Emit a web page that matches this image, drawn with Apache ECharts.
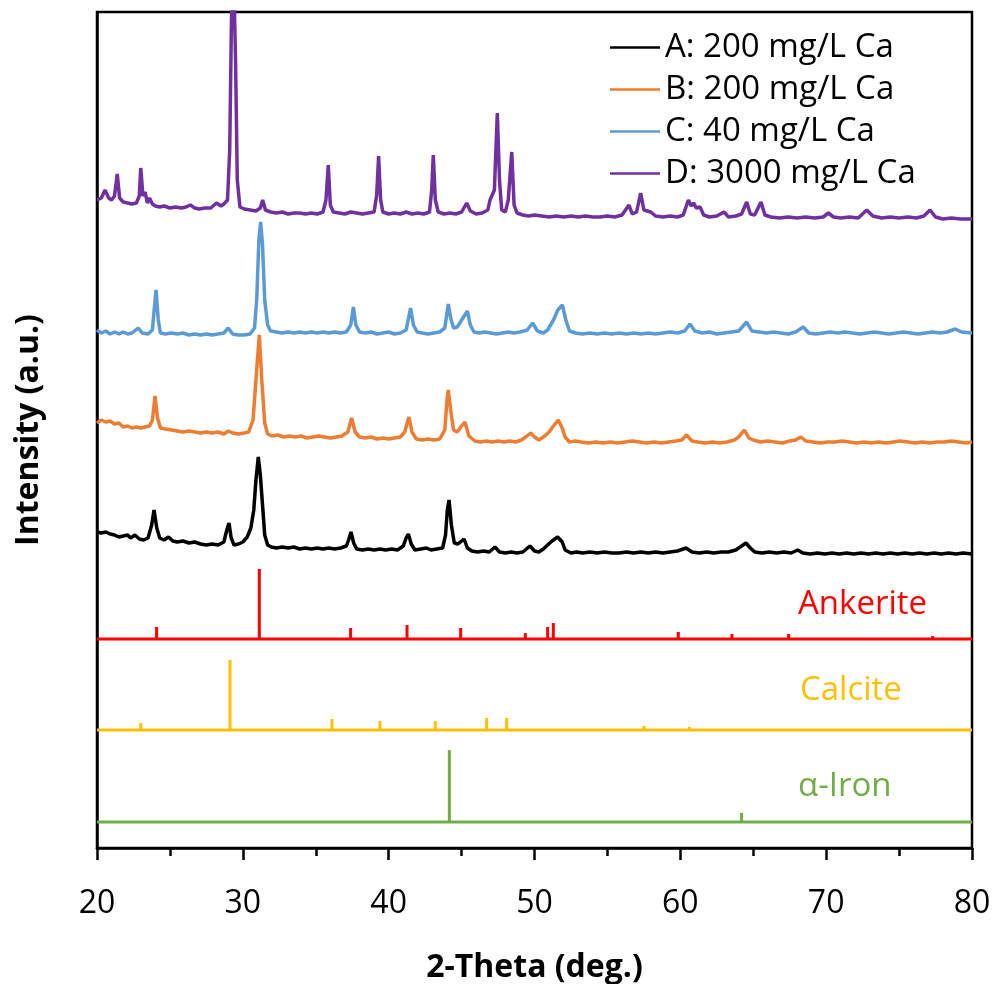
<!DOCTYPE html>
<html>
<head>
<meta charset="utf-8">
<title>XRD patterns</title>
<script src="https://cdn.jsdelivr.net/npm/echarts@6/dist/echarts.min.js"></script>
<style>
  html, body { margin: 0; padding: 0; background: #fff; }
  #chart { width: 996px; height: 984px; }
</style>
</head>
<body>
<div id="chart"></div>
<script>
// 2-theta range of the x axis
const thetaMin = 20;
const thetaMax = 80;
const thetaStep = 10;

const seriesNames = ['A: 200 mg/L Ca', 'B: 200 mg/L Ca', 'C: 40 mg/L Ca', 'D: 3000 mg/L Ca'];

// measured patterns, [2-theta, intensity above own baseline] (a.u.)
const patternA = [
  [20.0,16],[20.3,15],[20.6,16],[20.9,14],[21.2,13],[21.5,11],[21.8,12],[22.1,13],[22.3,10],[22.6,13],
  [22.9,9],[23.2,8],[23.5,10],[23.75,23],[23.91,38],[24.1,20],[24.3,10],[24.6,8],[24.9,11],[25.2,7],
  [25.5,6],[25.9,7],[26.3,5],[26.7,6],[27.1,4],[27.5,3],[27.9,4],[28.3,3],[28.7,6],[28.9,18],
  [29.05,25],[29.2,10],[29.4,3],[29.7,4],[30.0,6],[30.3,11],[30.55,20],[30.75,38],[30.9,68],[31.06,91],
  [31.2,73],[31.35,43],[31.5,13],[31.7,3],[31.95,1],[32.3,0],[32.7,1],[33.1,0],[33.5,1],[33.9,-1],
  [34.3,0],[34.7,-1],[35.1,0],[35.5,-1],[35.9,0],[36.3,-1],[36.7,0],[37.1,2],[37.25,8],[37.42,16],
  [37.6,5],[37.8,-1],[38.2,-2],[38.6,-1],[39.0,-2],[39.4,-1],[39.8,-2],[40.2,-1],[40.6,-2],[41.0,2],
  [41.2,10],[41.35,14],[41.55,4],[41.8,-2],[42.2,-1],[42.6,0],[42.9,-2],[43.3,-1],[43.7,0],[43.9,13],
  [44.02,38],[44.14,48],[44.3,23],[44.5,5],[44.75,4],[45.0,7],[45.17,9],[45.4,0],[45.7,-3],[46.1,-4],
  [46.5,-3],[46.9,-4],[47.29,1],[47.6,-4],[48.0,-5],[48.4,-4],[48.8,-5],[49.2,-4],[49.69,2],[50.0,-3],
  [50.3,-4],[50.6,-1],[50.9,3],[51.2,7],[51.59,11],[51.9,6],[52.1,-2],[52.5,-5],[52.9,-4],[53.3,-5],
  [53.8,-4],[54.3,-5],[54.8,-4],[55.3,-5],[55.8,-5],[56.3,-4],[56.8,-5],[57.3,-4],[57.8,-5],[58.3,-4],
  [58.8,-5],[59.3,-4],[59.8,-3],[60.39,0],[60.8,-4],[61.3,-5],[61.8,-4],[62.3,-5],[62.8,-4],[63.3,-4],
  [63.8,-2],[64.1,1],[64.5,5],[64.8,0],[65.1,-4],[65.6,-5],[66.1,-4],[66.6,-5],[67.1,-4],[67.6,-5],
  [68.05,-2],[68.4,-5],[68.9,-6],[69.4,-5],[69.9,-6],[70.4,-5],[70.9,-6],[71.4,-5],[71.9,-6],[72.4,-5],
  [72.9,-6],[73.4,-5],[73.9,-6],[74.4,-5],[74.9,-6],[75.4,-5],[75.9,-6],[76.4,-5],[76.9,-6],[77.4,-5],
  [77.9,-6],[78.4,-5],[78.9,-6],[79.4,-5],[80.0,-6]
];
const patternB = [
  [20.0,15],[20.3,18],[20.6,16],[20.9,17],[21.2,14],[21.5,15],[21.8,11],[22.1,12],[22.4,10],[22.7,11],
  [23.0,10],[23.3,11],[23.6,12],[23.8,18],[23.98,42],[24.15,20],[24.35,10],[24.7,9],[25.1,8],[25.5,7],
  [25.9,6],[26.3,7],[26.7,6],[27.1,5],[27.5,6],[27.9,5],[28.3,6],[28.7,4],[29.0,7],[29.3,5],
  [29.7,4],[30.1,5],[30.4,6],[30.7,18],[30.9,58],[31.13,103],[31.3,58],[31.5,15],[31.7,4],[32.0,2],
  [32.4,3],[32.8,1],[33.2,2],[33.6,1],[34.0,2],[34.4,0],[34.8,1],[35.2,2],[35.6,1],[36.0,0],
  [36.4,1],[36.8,2],[37.2,6],[37.46,20],[37.7,6],[38.0,1],[38.4,0],[38.8,1],[39.2,-1],[39.6,0],
  [40.0,-1],[40.4,0],[40.8,1],[41.1,6],[41.39,21],[41.6,6],[41.9,-1],[42.3,-2],[42.7,-1],[43.1,-2],
  [43.5,-1],[43.85,8],[44.0,38],[44.09,48],[44.25,28],[44.45,8],[44.7,6],[45.0,12],[45.23,16],[45.5,2],
  [45.9,-3],[46.3,-4],[46.7,-3],[47.1,-4],[47.5,-3],[47.9,-4],[48.3,-3],[48.7,-4],[49.1,-2],[49.4,1],
  [49.74,5],[50.0,1],[50.3,-2],[50.7,2],[51.0,6],[51.3,12],[51.63,18],[51.9,10],[52.1,1],[52.4,-4],
  [52.8,-3],[53.2,-4],[53.7,-5],[54.2,-4],[54.7,-5],[55.2,-4],[55.7,-5],[56.2,-4],[56.7,-3],[57.2,-4],
  [57.7,-5],[58.2,-4],[58.7,-5],[59.2,-4],[59.7,-3],[60.1,-2],[60.43,3],[60.8,-3],[61.2,-4],[61.7,-5],
  [62.2,-4],[62.7,-5],[63.2,-4],[63.7,-2],[64.0,1],[64.39,8],[64.7,0],[65.0,-2],[65.5,-4],[66.0,-3],
  [66.5,-4],[67.0,-5],[67.5,-3],[67.9,-2],[68.27,1],[68.6,-3],[69.1,-4],[69.6,-5],[70.1,-4],[70.6,-4],
  [71.1,-3],[71.6,-4],[72.1,-5],[72.6,-4],[73.1,-5],[73.6,-4],[74.1,-5],[74.6,-4],[75.1,-3],[75.6,-4],
  [76.1,-5],[76.6,-4],[77.1,-5],[77.6,-4],[78.1,-4],[78.6,-3],[79.1,-4],[79.6,-5],[80.0,-4]
];
const patternC = [
  [20.0,3],[20.3,0],[20.6,2],[20.9,-1],[21.2,1],[21.5,-1],[21.8,1],[22.1,-1],[22.4,0],[22.83,5],
  [23.1,0],[23.5,-1],[23.8,3],[23.95,28],[24.05,43],[24.2,13],[24.35,0],[24.7,-1],[25.1,0],[25.5,-1],
  [25.9,0],[26.3,-2],[26.7,-1],[27.1,-2],[27.5,-1],[27.9,-2],[28.3,-1],[28.7,0],[29.0,5],[29.3,-1],
  [29.7,-2],[30.1,-2],[30.5,-1],[30.8,5],[30.95,33],[31.1,93],[31.22,111],[31.35,88],[31.5,33],[31.7,8],
  [31.9,2],[32.3,1],[32.7,0],[33.1,1],[33.5,0],[33.9,1],[34.3,0],[34.7,1],[35.1,0],[35.5,1],
  [35.9,0],[36.3,1],[36.7,0],[37.1,1],[37.4,8],[37.58,26],[37.75,8],[38.0,1],[38.4,0],[38.8,1],
  [39.2,-1],[39.6,0],[40.0,1],[40.4,-1],[40.8,0],[41.2,3],[41.5,25],[41.7,8],[41.95,1],[42.3,0],
  [42.7,-1],[43.1,0],[43.5,1],[43.85,5],[44.09,29],[44.25,15],[44.45,5],[44.7,6],[45.4,22],[45.6,8],
  [45.85,1],[46.2,0],[46.6,1],[47.0,0],[47.4,-1],[47.8,0],[48.2,1],[48.6,0],[49.0,1],[49.5,3],
  [49.87,10],[50.2,2],[50.6,0],[50.9,3],[51.3,13],[51.6,23],[51.91,28],[52.15,13],[52.4,2],[52.8,0],
  [53.3,-1],[53.8,0],[54.3,-1],[54.8,0],[55.3,-1],[55.8,0],[56.3,-1],[56.8,0],[57.3,-1],[57.8,0],
  [58.3,-1],[58.8,0],[59.3,1],[59.8,0],[60.3,2],[60.66,9],[61.0,2],[61.5,0],[62.0,1],[62.5,-1],
  [63.0,0],[63.5,1],[64.0,2],[64.55,11],[64.9,2],[65.4,1],[65.9,0],[66.4,1],[66.9,0],[67.4,-1],
  [67.9,1],[68.43,6],[68.8,0],[69.3,-1],[69.8,0],[70.3,1],[70.8,0],[71.3,1],[71.8,0],[72.3,-1],
  [72.8,0],[73.3,1],[73.8,0],[74.3,-1],[74.8,0],[75.3,1],[75.8,0],[76.3,-1],[76.8,0],[77.3,1],
  [77.8,0],[78.3,1],[78.84,4],[79.3,1],[80.0,0]
];
const patternD = [
  [20.0,18],[20.3,20],[20.55,28],[20.8,20],[21.0,18],[21.2,22],[21.39,44],[21.55,20],[21.8,16],[22.1,15],
  [22.4,14],[22.7,15],[22.9,22],[23.0,50],[23.15,22],[23.3,26],[23.45,15],[23.6,20],[23.8,14],[24.0,12],
  [24.3,11],[24.6,12],[25.0,10],[25.4,11],[25.8,10],[26.1,11],[26.4,13],[26.7,10],[27.0,9],[27.4,10],
  [27.8,10],[28.2,15],[28.5,12],[28.7,14],[28.95,18],[29.1,68],[29.22,198],[29.35,258],[29.5,158],[29.62,38],
  [29.8,11],[30.1,9],[30.5,8],[30.9,7],[31.2,10],[31.36,18],[31.55,8],[31.9,6],[32.3,5],[32.7,6],
  [33.1,4],[33.5,5],[33.9,5],[34.3,4],[34.7,5],[35.1,4],[35.5,6],[35.7,18],[35.86,53],[36.0,13],
  [36.2,6],[36.6,5],[37.0,4],[37.4,6],[37.8,5],[38.2,4],[38.6,5],[39.0,6],[39.18,23],[39.31,62],
  [39.45,18],[39.6,6],[40.0,4],[40.4,5],[40.8,4],[41.2,6],[41.6,4],[42.0,5],[42.4,4],[42.8,6],
  [42.95,28],[43.06,63],[43.2,18],[43.4,6],[43.8,4],[44.2,5],[44.6,4],[45.0,6],[45.35,15],[45.6,7],
  [46.0,4],[46.4,5],[46.8,8],[46.95,18],[47.25,28],[47.45,105],[47.6,38],[47.75,8],[48.0,6],[48.2,18],
  [48.44,66],[48.6,13],[48.8,5],[49.2,3],[49.6,2],[50.0,3],[50.5,2],[51.0,1],[51.5,2],[52.0,1],
  [52.5,2],[53.0,1],[53.5,2],[54.0,1],[54.5,1],[55.0,2],[55.5,1],[56.0,3],[56.48,13],[56.7,4],
  [57.0,6],[57.28,25],[57.5,8],[57.97,6],[58.3,2],[58.8,1],[59.3,2],[59.8,1],[60.2,3],[60.55,18],
  [60.75,12],[60.9,15],[61.1,10],[61.35,11],[61.6,3],[62.0,1],[62.5,2],[63.0,6],[63.3,1],[63.8,2],
  [64.2,4],[64.55,16],[64.8,4],[65.1,3],[65.53,16],[65.8,3],[66.2,1],[66.8,0],[67.4,1],[68.0,0],
  [68.6,1],[69.2,0],[69.8,1],[70.15,5],[70.5,1],[71.0,0],[71.6,1],[72.2,0],[72.78,8],[73.2,2],
  [73.8,0],[74.4,1],[75.0,0],[75.6,1],[76.2,0],[76.7,2],[77.12,8],[77.5,1],[78.0,-1],[78.6,0],
  [79.2,-1],[80.0,-1]
];

// reference stick patterns, [2-theta, relative intensity]
const ankeriteSticks = [
  [24.09,12],[31.13,70],[37.39,11],[41.26,14],[44.94,11],[49.37,6],[50.9,12],[51.29,16],
  [59.86,7],[63.54,5],[67.43,5],[71.18,1],[77.3,3]
];
const calciteSticks = [
  [23.0,7],[29.12,70],[36.11,11],[39.4,9],[43.2,9],[46.72,12],[48.09,12],
  [56.78,1],[57.51,4],[60.62,3],[64.89,1]
];
const ironSticks = [[44.16,72],[64.2,9]];

const phaseNames = ['Ankerite', 'Calcite', 'α-Iron'];

// vertical stacking offsets (a.u.)
const offsets = { A: 300, B: 410, C: 515, D: 630, ankerite: 209, calcite: 118, iron: 26 };
const yTop = 836;

const colors = {
  A: '#000000', B: '#ED7D31', C: '#5B9BD5', D: '#7030A0',
  ankerite: '#FF0000', calcite: '#FFC000', iron: '#70AD47'
};

function shift(points, off) {
  return points.map(p => [p[0], p[1] + off]);
}

function stickLine(sticks, off) {
  const out = [[thetaMin, off]];
  sticks.forEach(s => {
    out.push([s[0], off], [s[0], off + s[1]], [s[0], off]);
  });
  out.push([thetaMax, off]);
  return out;
}

function traceSeries(name, data, color, width) {
  return {
    name: name,
    type: 'line',
    data: data,
    symbol: 'none',
    color: color,
    lineStyle: { color: color, width: width },
    clip: true,
    z: 3
  };
}

const chart = echarts.init(document.getElementById('chart'));
const font = '"Open Sans", "DejaVu Sans", sans-serif';

function phaseLabel(text, x, y, color) {
  return {
    type: 'text', x: x, y: y,
    style: { text: text, fill: color, fontSize: 33, fontFamily: font, textVerticalAlign: 'middle', verticalAlign: 'middle' }
  };
}

const option = {
  animation: false,
  backgroundColor: '#fff',
  textStyle: { fontFamily: font },
  grid: {
    left: 97, right: 24, top: 12, bottom: 136,
    outerBoundsMode: 'none',
    containLabel: false,
    show: true, borderColor: '#000', borderWidth: 2.5, backgroundColor: 'transparent'
  },
  legend: {
    data: seriesNames,
    orient: 'vertical',
    left: 605,
    top: 26,
    icon: 'rect',
    itemWidth: 50,
    itemHeight: 2.5,
    itemGap: 9,
    textStyle: { fontSize: 33, color: '#000', fontFamily: font }
  },
  xAxis: {
    type: 'value',
    min: thetaMin,
    max: thetaMax,
    interval: thetaStep,
    name: '2-Theta (deg.)',
    nameLocation: 'middle',
    nameGap: 104,
    nameTextStyle: { fontSize: 32, fontWeight: 'bold', color: '#000', fontFamily: font },
    axisLine: { show: true, lineStyle: { color: '#000', width: 2.5 } },
    axisTick: { show: true, inside: false, length: 12, lineStyle: { color: '#000', width: 2.5 } },
    minorTick: { show: true, splitNumber: 2, length: 8, lineStyle: { color: '#000', width: 2.5 } },
    axisLabel: { fontSize: 32, color: '#000', margin: 40, fontFamily: font },
    splitLine: { show: false },
    minorSplitLine: { show: false }
  },
  yAxis: {
    type: 'value',
    min: 0,
    max: yTop,
    name: 'Intensity (a.u.)',
    nameLocation: 'middle',
    nameGap: 52,
    nameTextStyle: { fontSize: 32, fontWeight: 'bold', color: '#000', fontFamily: font },
    axisLine: { show: true, lineStyle: { color: '#000', width: 2.5 } },
    axisTick: { show: false },
    axisLabel: { show: false },
    splitLine: { show: false }
  },
  graphic: [
    phaseLabel(phaseNames[0], 798, 605, colors.ankerite),
    phaseLabel(phaseNames[1], 800, 691, colors.calcite),
    phaseLabel(phaseNames[2], 798, 787, colors.iron)
  ],
  series: [
    traceSeries(seriesNames[0], shift(patternA, offsets.A), colors.A, 3.5),
    traceSeries(seriesNames[1], shift(patternB, offsets.B), colors.B, 3.5),
    traceSeries(seriesNames[2], shift(patternC, offsets.C), colors.C, 3.5),
    traceSeries(seriesNames[3], shift(patternD, offsets.D), colors.D, 3.5),
    traceSeries(phaseNames[0], stickLine(ankeriteSticks, offsets.ankerite), colors.ankerite, 3),
    traceSeries(phaseNames[1], stickLine(calciteSticks, offsets.calcite), colors.calcite, 3),
    traceSeries(phaseNames[2], stickLine(ironSticks, offsets.iron), colors.iron, 3)
  ]
};

chart.setOption(option);
</script>
</body>
</html>
